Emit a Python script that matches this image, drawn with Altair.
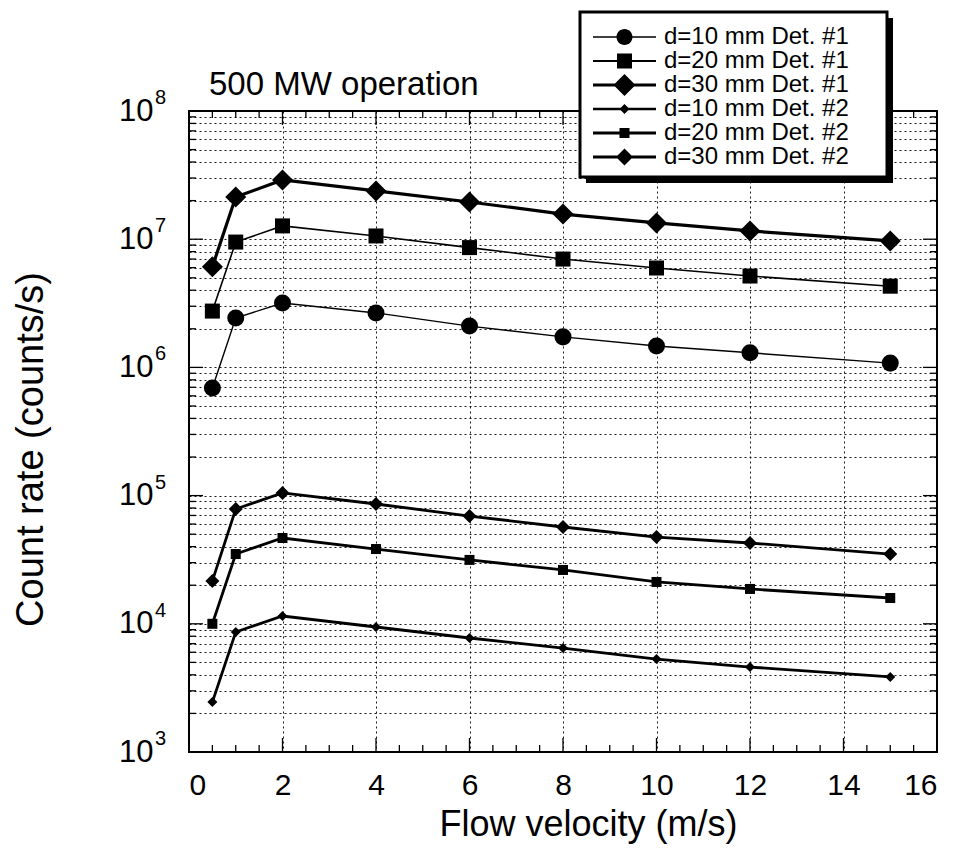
import altair as alt
import pandas as pd

# ---------------- data ----------------
velocity = [0.5, 1, 2, 4, 6, 8, 10, 12, 15]
series_names = [
    "d=10 mm Det. #1",
    "d=20 mm Det. #1",
    "d=30 mm Det. #1",
    "d=10 mm Det. #2",
    "d=20 mm Det. #2",
    "d=30 mm Det. #2",
]
d10_det1 = [6.9e5, 2.43e6, 3.18e6, 2.66e6, 2.10e6, 1.73e6, 1.47e6, 1.30e6, 1.08e6]
d20_det1 = [2.75e6, 9.5e6, 1.27e7, 1.06e7, 8.6e6, 7.0e6, 5.96e6, 5.16e6, 4.3e6]
d30_det1 = [6.1e6, 2.13e7, 2.9e7, 2.38e7, 1.95e7, 1.57e7, 1.34e7, 1.16e7, 9.7e6]
d10_det2 = [2.45e3, 8.63e3, 1.15e4, 9.44e3, 7.75e3, 6.47e3, 5.31e3, 4.6e3, 3.85e3]
d20_det2 = [1.0e4, 3.5e4, 4.67e4, 3.83e4, 3.15e4, 2.63e4, 2.12e4, 1.87e4, 1.59e4]
d30_det2 = [2.16e4, 7.86e4, 1.05e5, 8.6e4, 6.93e4, 5.69e4, 4.75e4, 4.27e4, 3.5e4]
series_values = [d10_det1, d20_det1, d30_det1, d10_det2, d20_det2, d30_det2]

chart_title = ["500 MW operation"]

x_major = [0, 2, 4, 6, 8, 10, 12, 14, 16]
x_minor = [0.5, 1, 1.5, 2.5, 3, 3.5, 4.5, 5, 5.5, 6.5, 7, 7.5, 8.5, 9, 9.5,
           10.5, 11, 11.5, 12.5, 13, 13.5, 14.5, 15, 15.5]
y_decades = [1e3, 1e4, 1e5, 1e6, 1e7, 1e8]
y_exponents = ["3", "4", "5", "6", "7", "8"]
y_minor = [k * 10 ** e for e in range(3, 8) for k in range(2, 10)]

# ---------------- styling ----------------
FONT = "Liberation Sans"
W, H = 748, 641
marker_shape = ["circle", "square", "diamond", "diamond", "square", "diamond"]
marker_size = [290, 225, 441, 100, 100, 196]
line_width = [1.4, 1.6, 3.2, 2.8, 2.8, 2.8]

# legend symbols: line segment (thin filled bar) with marker, unit = 12 px (symbolSize 576)
LEG_UNIT = 12.0
LINE_L, LINE_R, MARK_C = -1.0, 4.25, 1.625


def legend_path(marker, half_px, line_px):
    h = round(half_px / LEG_UNIT, 3)
    t = round(line_px / 2 / LEG_UNIT, 3)
    c = MARK_C
    line = f"M{LINE_L},{-t}L{LINE_R},{-t}L{LINE_R},{t}L{LINE_L},{t}Z"
    if marker == "circle":
        m = f"M{c + h},0A{h},{h},0,1,1,{c - h},0A{h},{h},0,1,1,{c + h},0Z"
    elif marker == "square":
        m = f"M{c - h},{-h}L{c + h},{-h}L{c + h},{h}L{c - h},{h}Z"
    else:
        m = f"M{c - h},0L{c},{-h}L{c + h},0L{c},{h}Z"
    return line + m


legend_half_px = [8, 7.5, 11, 5, 5, 8.5]
legend_line_px = [1.5, 1.8, 3.0, 2.6, 2.8, 3.0]
legend_paths = [legend_path(s, h, lw) for s, h, lw in zip(marker_shape, legend_half_px, legend_line_px)]

rows = []
for name, vals in zip(series_names, series_values):
    for v, c in zip(velocity, vals):
        rows.append({"velocity": v, "count": c, "series": name})
df = pd.DataFrame(rows)

x_scale = alt.Scale(domain=[0, 16], nice=False, zero=False)
y_scale = alt.Scale(type="log", domain=[1e3, 1e8], nice=False)

label_expr = (
    "(abs(log(datum.value)/LN10 - round(log(datum.value)/LN10)) < 1e-6) ? '10' : ''"
)

x_axis = alt.Axis(
    values=x_major, grid=True, gridColor="black", gridDash=[2, 3], gridWidth=1,
    gridOpacity=0.9, ticks=False, domain=False, labelFont=FONT, labelFontSize=30,
    labelColor="black", labelPadding=18, title="Flow velocity (m/s)",
    titleFont=FONT, titleFontSize=36, titleFontWeight="normal", titleColor="black",
    titleX=399, titleY=72, titleBaseline="middle",
)
y_axis = alt.Axis(
    values=y_decades + y_minor, grid=True, gridColor="black", gridDash=[2, 3],
    gridWidth=1, gridOpacity=0.9, ticks=False, domain=False, labelExpr=label_expr,
    labelOverlap=False, labelFont=FONT, labelFontSize=31, labelColor="black",
    labelPadding=36, labelBaseline="middle", title="Count rate (counts/s)",
    titleFont=FONT, titleFontSize=38, titleFontWeight="normal", titleColor="black",
    titleX=-158, titleY=338, titleAngle=-90, titleBaseline="middle", titleAlign="center",
)

X = alt.X("velocity:Q", scale=x_scale, axis=x_axis)
Y = alt.Y("count:Q", scale=y_scale, axis=y_axis)

layers = []


def tick_layer(values, field, length, side):
    d = pd.DataFrame({field: values})
    c = alt.Chart(d).mark_rule(color="black", strokeWidth=1.3)
    if side == "bottom":
        return c.encode(x=X, y=alt.value(H), y2=alt.value(H - length))
    if side == "top":
        return c.encode(x=X, y=alt.value(0), y2=alt.value(length))
    if side == "left":
        return c.encode(y=Y, x=alt.value(0), x2=alt.value(length))
    return c.encode(y=Y, x=alt.value(W), x2=alt.value(W - length))


layers += [
    tick_layer(x_major[1:-1], "velocity", 14, "bottom"),
    tick_layer(x_minor, "velocity", 7, "bottom"),
    tick_layer(x_major[1:-1], "velocity", 14, "top"),
    tick_layer(x_minor, "velocity", 7, "top"),
    tick_layer(y_decades[1:-1], "count", 14, "left"),
    tick_layer(y_minor, "count", 7, "left"),
    tick_layer(y_decades[1:-1], "count", 14, "right"),
    tick_layer(y_minor, "count", 7, "right"),
]

# exponents of the decade labels (10^n)
exp_layer = alt.Chart(pd.DataFrame({"count": y_decades, "exp": y_exponents})).mark_text(
    align="left", baseline="middle", font=FONT, fontSize=20, color="black", dy=-13
).encode(y=Y, x=alt.value(-34), text="exp:N")
layers.append(exp_layer)

for name, shp, sz, lw in zip(series_names, marker_shape, marker_size, line_width):
    sub = alt.Chart(df).transform_filter(alt.datum.series == name)
    layers.append(sub.mark_line(color="black", strokeWidth=lw).encode(x=X, y=Y))
    layers.append(
        sub.mark_point(filled=True, color="black", opacity=1, shape=shp, size=sz).encode(x=X, y=Y)
    )

# legend frame: drop shadow + white box with heavy border
box = pd.DataFrame({"k": [0]})
layers.append(
    alt.Chart(box).mark_rect(color="black").encode(
        x=alt.value(397), x2=alt.value(704), y=alt.value(-93), y2=alt.value(72)
    )
)
layers.append(
    alt.Chart(box).mark_rect(fill="white", stroke="black", strokeWidth=3).encode(
        x=alt.value(391), x2=alt.value(698), y=alt.value(-99), y2=alt.value(66)
    )
)

legend_layer = alt.Chart(df).mark_point(
    filled=True, color="black", opacity=0
).encode(
    x=X,
    y=Y,
    shape=alt.Shape(
        "series:N",
        scale=alt.Scale(domain=series_names, range=legend_paths),
        legend=alt.Legend(
            orient="none", legendX=391, legendY=-99, title=None,
            labelFont=FONT, labelFontSize=24, labelLimit=0, labelColor="black",
            symbolSize=LEG_UNIT * LEG_UNIT * 4, symbolOpacity=1, labelOffset=47,
            padding=13, rowPadding=0, cornerRadius=0, symbolLimit=0, clipHeight=24,
            symbolFillColor="black", symbolStrokeColor="black", symbolStrokeWidth=0,
            strokeColor="transparent", fillColor="transparent",
        ),
    ),
)
layers.append(legend_layer)

title_layer = alt.Chart(pd.DataFrame({"t": chart_title})).mark_text(
    align="left", baseline="alphabetic", font=FONT, fontSize=33, color="black"
).encode(text="t:N", x=alt.value(20), y=alt.value(-16))
layers.append(title_layer)

chart = alt.layer(*layers).properties(
    width=W,
    height=H,
    background="white",
    padding={"left": 189, "top": 111, "right": 24, "bottom": 108},
    autosize=alt.AutoSizeParams(type="none"),
).configure_view(
    stroke="black", strokeWidth=2
)

chart.save("out.html", embed_options={"renderer": "svg", "actions": False})
